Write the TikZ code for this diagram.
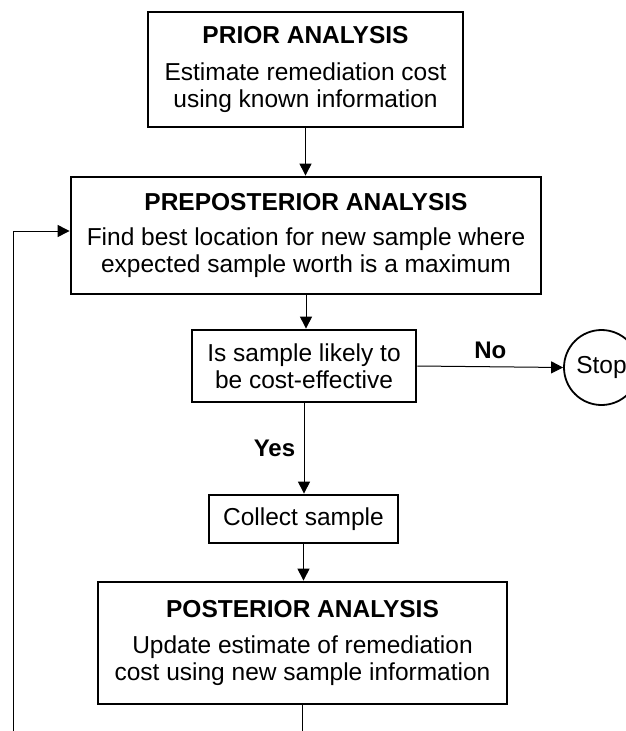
\documentclass[tikz,border=0pt]{standalone}
\usepackage{fontspec}
\setmainfont{Liberation Sans}
\usetikzlibrary{arrows.meta}
\begin{document}
\begin{tikzpicture}[x=1pt,y=-1pt,
  every node/.style={font=\fontsize{24.5}{27}\selectfont},
  box/.style={draw, line width=2.8pt, align=center, inner sep=0pt},
  conn/.style={line width=1pt},
  arr/.style={conn, -{Triangle[length=12pt,width=12pt]}},
  lbl/.style={font=\fontsize{24}{27}\selectfont\bfseries}]
\useasboundingbox (0,0) rectangle (626,731);
\node[box, minimum width=315, minimum height=115] (prior) at (305.5,69.5)
  {{\bfseries PRIOR ANALYSIS}\\[10pt]Estimate remediation cost\\using known information};
\node[box, minimum width=470, minimum height=117] (prepost) at (306,235.5)
  {{\bfseries PREPOSTERIOR ANALYSIS}\\[8pt]Find best location for new sample where\\expected sample worth is a maximum};
\node[box, minimum width=224, minimum height=72] (decide) at (304,366)
  {Is sample likely to\\be cost-effective};
\node[draw, circle, line width=1.8pt, minimum size=75, inner sep=0pt] (stop) at (601.5,367.5) {Stop};
\node[box, minimum width=189, minimum height=48] (collect) at (303.5,519) {Collect sample};
\node[box, minimum width=409, minimum height=122] (post) at (302.5,643)
  {{\bfseries POSTERIOR ANALYSIS}\\[9pt]Update estimate of remediation\\cost using new sample information};
\coordinate (postend) at (302.5,731);
\coordinate (loopbot) at (13,731);
\draw[arr] (prior.south) -- (prior.south |- prepost.north);
\draw[arr] (prepost.south) -- (prepost.south |- decide.north);
\draw[arr] (decide.east) -- (stop.west) node[lbl, midway, above=4pt] {No};
\draw[arr] (decide.south) -- (decide.south |- collect.north) node[lbl, pos=0.5, left=5pt] {Yes};
\draw[arr] (collect.south) -- (collect.south |- post.north);
\draw[conn] (post.south) -- (postend);
\draw[arr] (loopbot) |- ([yshift=4.5pt]prepost.west);
\end{tikzpicture}
\end{document}
